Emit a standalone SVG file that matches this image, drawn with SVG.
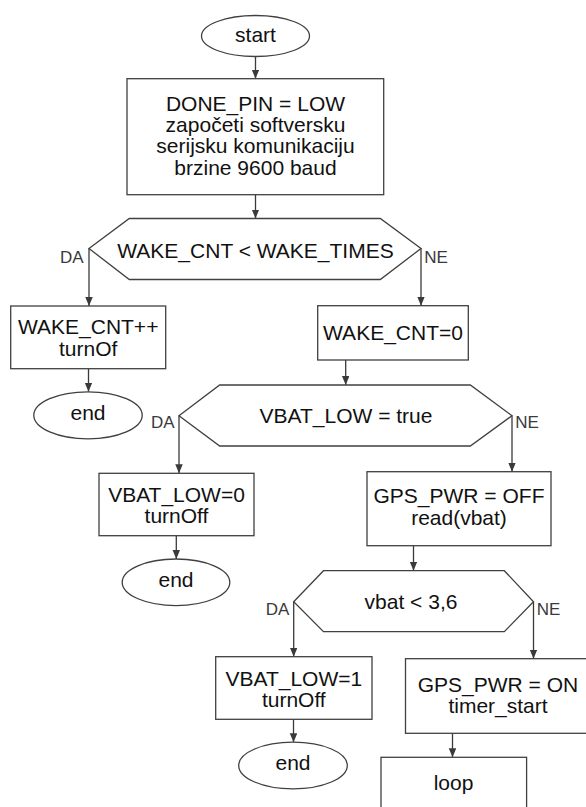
<svg xmlns="http://www.w3.org/2000/svg" width="586" height="807" viewBox="0 0 586 807">
<style>
.shape{fill:#fff;stroke:#404040;stroke-width:1.3}
.t{font-family:"Liberation Sans",Arial,sans-serif;font-size:21px;fill:#111;text-anchor:middle}
.lbl{font-family:"Liberation Sans",Arial,sans-serif;font-size:17px;fill:#3a3a3a}
.conn{fill:none;stroke:#3a3a3a;stroke-width:1.3;marker-end:url(#ah)}
</style>
<defs>
<marker id="ah" markerUnits="userSpaceOnUse" markerWidth="10" markerHeight="8" refX="9" refY="3.75" orient="auto">
<path d="M0,0 L9,3.75 L0,7.5 z" fill="#3a3a3a"/>
</marker>
</defs>
<rect width="586" height="807" fill="#fff"/>
<g id="connectors">
<line class="conn" x1="255.5" y1="56.5" x2="255.5" y2="78.7"/>
<line class="conn" x1="255.5" y1="194.7" x2="255.5" y2="218.5"/>
<line class="conn" x1="89" y1="248.5" x2="89" y2="306"/>
<line class="conn" x1="421" y1="248.5" x2="421" y2="305.7"/>
<line class="conn" x1="88.5" y1="368.7" x2="88.5" y2="391.7"/>
<line class="conn" x1="345.7" y1="360" x2="345.7" y2="385"/>
<line class="conn" x1="179" y1="415.7" x2="179" y2="473.3"/>
<line class="conn" x1="512" y1="415.7" x2="512" y2="471.7"/>
<line class="conn" x1="176.3" y1="535.7" x2="176.3" y2="559"/>
<line class="conn" x1="413.5" y1="545.7" x2="413.5" y2="570.7"/>
<line class="conn" x1="293.7" y1="601.7" x2="293.7" y2="656.7"/>
<line class="conn" x1="533.5" y1="601.7" x2="533.5" y2="658.7"/>
<line class="conn" x1="293.5" y1="719.3" x2="293.5" y2="742.3"/>
<line class="conn" x1="452.5" y1="733.3" x2="452.5" y2="757.3"/>
</g>
<g id="start">
<ellipse class="shape" cx="255.5" cy="36" rx="54" ry="20.5"/>
<text class="t" x="255.5" y="42">start</text>
</g>
<g id="init">
<rect class="shape" x="127" y="78.7" width="256.7" height="116"/>
<text class="t" x="255.5" y="110.5">DONE_PIN = LOW</text>
<text class="t" x="255.5" y="131.5">započeti softversku</text>
<text class="t" x="255.5" y="153">serijsku komunikaciju</text>
<text class="t" x="255.5" y="174.5">brzine 9600 baud</text>
</g>
<g id="dec1">
<polygon class="shape" points="89,248.5 129.3,218.5 380.3,218.5 421,248.5 380.3,279.5 129.3,279.5"/>
<text class="t" x="255.5" y="257.5">WAKE_CNT &lt; WAKE_TIMES</text>
<text class="lbl" x="60" y="262.7">DA</text>
<text class="lbl" x="424.3" y="262.7">NE</text>
</g>
<g id="wakeinc">
<rect class="shape" x="10.7" y="306" width="155" height="62.7"/>
<text class="t" x="88.2" y="334.3">WAKE_CNT++</text>
<text class="t" x="88.2" y="356">turnOf</text>
</g>
<g id="end1">
<ellipse class="shape" cx="88" cy="415.3" rx="54.2" ry="23.5"/>
<text class="t" x="88" y="419.5">end</text>
</g>
<g id="wakezero">
<rect class="shape" x="317.7" y="305.7" width="150.6" height="54.3"/>
<text class="t" x="393" y="340">WAKE_CNT=0</text>
</g>
<g id="dec2">
<polygon class="shape" points="179,415.7 219.7,385 470.3,385 512,415.7 470.3,446 219.7,446"/>
<text class="t" x="346" y="423.3">VBAT_LOW = true</text>
<text class="lbl" x="151" y="428.3">DA</text>
<text class="lbl" x="515.3" y="428.3">NE</text>
</g>
<g id="vbatlow0">
<rect class="shape" x="99" y="473.3" width="155" height="62.4"/>
<text class="t" x="176.5" y="501.7">VBAT_LOW=0</text>
<text class="t" x="176.5" y="522.5">turnOff</text>
</g>
<g id="end2">
<ellipse class="shape" cx="176" cy="582.3" rx="53.8" ry="23.3"/>
<text class="t" x="176" y="586.7">end</text>
</g>
<g id="gpsoff">
<rect class="shape" x="367" y="471.7" width="184" height="74"/>
<text class="t" x="459" y="503.3">GPS_PWR = OFF</text>
<text class="t" x="459" y="525">read(vbat)</text>
</g>
<g id="dec3">
<polygon class="shape" points="293.7,601.7 323.5,570.7 504.3,570.7 533.5,601.7 504.3,631.7 323.5,631.7"/>
<text class="t" x="411" y="609.3">vbat &lt; 3,6</text>
<text class="lbl" x="265.7" y="615">DA</text>
<text class="lbl" x="536.7" y="615">NE</text>
</g>
<g id="vbatlow1">
<rect class="shape" x="215.7" y="656.7" width="156.3" height="62.6"/>
<text class="t" x="293.8" y="685.7">VBAT_LOW=1</text>
<text class="t" x="293.8" y="706.7">turnOff</text>
</g>
<g id="end3">
<ellipse class="shape" cx="293" cy="765.5" rx="54.3" ry="23.3"/>
<text class="t" x="293" y="770">end</text>
</g>
<g id="gpson">
<rect class="shape" x="405.5" y="658.7" width="185" height="74.6"/>
<text class="t" x="498" y="691.7">GPS_PWR = ON</text>
<text class="t" x="498" y="712.7">timer_start</text>
</g>
<g id="loop">
<rect class="shape" x="381" y="757.3" width="145.6" height="60"/>
<text class="t" x="453.5" y="790">loop</text>
</g>
</svg>
